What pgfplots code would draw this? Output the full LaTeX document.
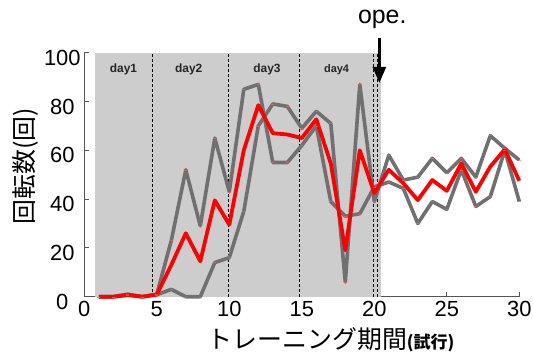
\documentclass[border=0pt]{standalone}
\usepackage{fontspec}
\setmainfont{Liberation Sans}
\newfontfamily\jp{Noto Sans CJK JP}
\usepackage{pgfplots}
\usepackage{pgfplotstable}
\pgfplotsset{compat=1.18}
\usetikzlibrary{arrows.meta,calc}
\definecolor{boxgray}{RGB}{205,205,205}
\definecolor{linegray}{RGB}{112,112,112}
\definecolor{axgray}{RGB}{85,85,85}

\pgfplotstableread{
n A B R
1 0 0 0
2 0 0 0
3 1 0.6 0.8
4 0 0 0
5 1 0.8 0.9
6 23 3 13
7 52 0 26
8 29 0 14.5
9 65 14 39.5
10 43 16 29.5
11 85 35 60
12 87 70 78.5
13 55 79 67
14 55 78 66.5
15 62 69 65
16 70 76 72.7
17 39 71 54.6
18 33 6 19
19 34 87 60
20 45 39 42.5
21 47 58 52
22 44.4 47.8 46.5
23 30 49 39.6
24 39 56.7 47.8
25 35.8 50.8 43.4
26 52 56.7 54.6
27 37 49 43
28 41 66 53.3
29 60 60.8 60.4
30 39 56 47.5
}\data

\begin{document}
\begin{tikzpicture}
\begin{axis}[
  scale only axis, width=435bp, height=244bp,
  xmin=0, xmax=30, ymin=0, ymax=100,
  axis x line=bottom, axis y line=left,
  every outer x axis line/.append style={-},
  every outer y axis line/.append style={-},
  axis line style={axgray, line width=1.2bp, -},
  xtick={0,5,...,30}, ytick={0,20,...,100},
  tick align=inside, major tick length=5bp,
  tick style={axgray, line width=1bp},
  /pgf/number format/assume math mode=true,
  ticklabel style={font=\fontsize{22}{24}\selectfont},
  xticklabel style={yshift=-1bp},
  yticklabel style={anchor=center, xshift=-22bp, yshift=-5bp},
  clip=false,
]
\coordinate (O) at (axis cs:0,0);
% shaded training period
\addplot[draw=none, fill=boxgray] coordinates {(0.75,0) (20.45,0) (20.45,100) (0.75,100)} -- cycle;
% day separators
\addplot[black, line width=0.8bp, dash pattern=on 3bp off 2bp] coordinates {(4.7,0) (4.7,100)};
\addplot[black, line width=0.8bp, dash pattern=on 3bp off 2bp] coordinates {(9.93,0) (9.93,100)};
\addplot[black, line width=0.8bp, dash pattern=on 3bp off 2bp] coordinates {(14.83,0) (14.83,100)};
\addplot[black, line width=0.8bp, dash pattern=on 3bp off 2bp] coordinates {(19.97,0) (19.97,100)};
\addplot[black, line width=0.8bp, dash pattern=on 3bp off 2bp] coordinates {(20.22,0) (20.22,100)};
% individual series
\addplot[linegray, line width=3.6bp, line join=round, mark=-, mark size=1.6bp,
  mark options={red!60, line width=0.4bp, solid, opacity=0.6}] table[x=n, y=A] {\data};
\addplot[linegray, line width=3.6bp, line join=round, mark=-, mark size=1.6bp,
  mark options={red!60, line width=0.4bp, solid, opacity=0.6}] table[x=n, y=B] {\data};
% mean
\addplot[red, line width=3.8bp, line join=round] table[x=n, y=R] {\data};
% operation arrow
\addplot[black, line width=2.5bp, -{Triangle[length=16bp, width=13bp]}] coordinates {(20.35,106) (20.35,87.6)};
\node[font=\fontsize{25}{25}\selectfont] at (axis cs:20.55,113.8) {ope.};
\node[font=\fontsize{12}{12}\selectfont\bfseries, text=black!85] at (axis cs:2.7,93) {day1};
\node[font=\fontsize{12}{12}\selectfont\bfseries, text=black!85] at (axis cs:7.2,93) {day2};
\node[font=\fontsize{12}{12}\selectfont\bfseries, text=black!85] at (axis cs:12.6,93) {day3};
\node[font=\fontsize{11}{11}\selectfont\bfseries, text=black!85] at (axis cs:17.4,93) {day4};
\end{axis}
\node[rotate=90, font=\jp\fontsize{25}{25}\selectfont] at ($(O)+(-59bp,130.5bp)$) {回転数(回)};
\node[anchor=base] at ($(O)+(246.7bp,-52bp)$) {\jp\fontsize{25}{25}\selectfont トレーニング期間{\fontsize{17}{17}\selectfont\bfseries (試行)}};
\pgfresetboundingbox
\path[use as bounding box] (O) ++(-84.3bp,-58.3bp) rectangle ++(533bp,355bp);
\end{tikzpicture}
\end{document}
